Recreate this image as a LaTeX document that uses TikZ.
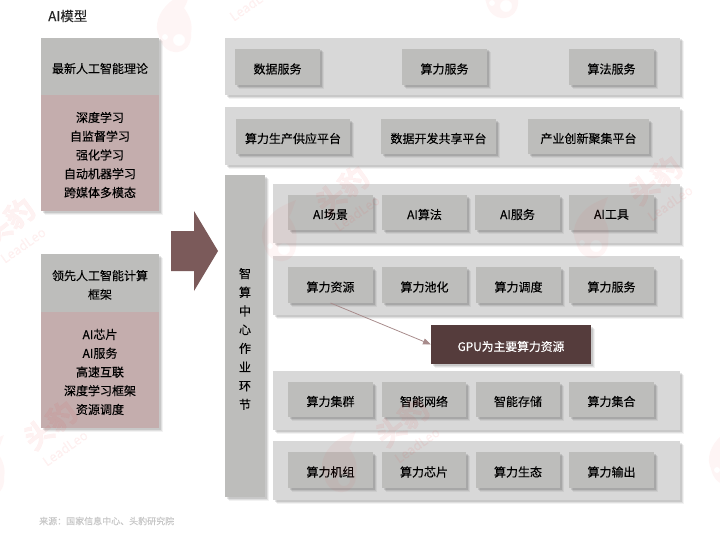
\documentclass[tikz,border=0pt]{standalone}
\usepackage{fontspec}
\setmainfont{Noto Sans CJK SC}[FakeBold=0.25]
\usetikzlibrary{arrows.meta}
\definecolor{hdr}{HTML}{BDBDBB}
\definecolor{rose}{HTML}{C4ADAD}
\definecolor{panel}{HTML}{D8D8D8}
\definecolor{dark}{HTML}{553C3C}
\definecolor{arrowc}{HTML}{7B5A5A}
\definecolor{linec}{HTML}{A88C8C}
\definecolor{wm}{HTML}{F04040}
\tikzset{
  shad/.style={preaction={fill=black,opacity=.10,transform canvas={shift={(1.5pt,-1.5pt)}}},
               preaction={fill=black,opacity=.08,transform canvas={shift={(2.5pt,-2.5pt)}}},
               preaction={fill=black,opacity=.05,transform canvas={shift={(3.5pt,-3.5pt)}}}},
  lbl/.style={inner sep=0pt,align=center,yshift=-2pt,text=black,font=\fontsize{12}{18.75}\selectfont},
  base/.style={rectangle,inner sep=0pt,outer sep=0pt},
  hbox/.style={base,fill=hdr,shad},
  rbox/.style={base,fill=rose,shad},
  pbox/.style={base,fill=panel,shad},
  ibox/.style={base,fill=hdr,shad},
  dbox/.style={base,fill=dark,shad},
  wmark/.style={text=wm,opacity=.065,rotate=38,inner sep=0pt,font=\bfseries\fontsize{29}{29}\selectfont},
  wsub/.style={text=wm,opacity=.065,rotate=35,inner sep=0pt,font=\fontsize{13}{13}\selectfont},
  wcat/.style={fill=wm,opacity=.05},
}
% #1 name, #2 style, #3 x1, #4 y1, #5 x2, #6 y2, #7 text
\newcommand{\bx}[7]{%
  \pgfmathsetmacro{\bw}{#5-#3}\pgfmathsetmacro{\bh}{#6-#4}%
  \pgfmathsetmacro{\bcx}{(#3+#5)/2}\pgfmathsetmacro{\bcy}{(#4+#6)/2}%
  \node[#2,minimum width=\bw pt,minimum height=\bh pt,label={[lbl]center:{#7}}] (#1) at (\bcx,\bcy) {};}
\newcommand{\catmark}[2]{%
  \begin{scope}[shift={(#1,#2)}]
    \fill[wcat,even odd rule] (13,-31) .. controls (10,-24) and (9,-18) .. (6,-14)
      .. controls (12,-6) and (15,2) .. (13,12) .. controls (14,22) and (8,29) .. (0,30)
      .. controls (-10,31) and (-17,24) .. (-19,14) .. controls (-24,4) and (-20,-10) .. (-8,-20)
      .. controls (-2,-25) and (6,-28) .. (13,-31) -- cycle
      (1,18) circle (6) (-13,15) circle (3);
  \end{scope}}
\begin{document}
\begin{tikzpicture}[x=1pt,y=-1pt]
\useasboundingbox (0,0) rectangle (720,535);
% left
\node[inner sep=0pt,anchor=west,text=black!85,font=\fontsize{13.5}{16}\selectfont] (title) at (48,16) {AI模型};
\bx{h1}{hbox}{41}{38}{159}{95}{最新人工智能理论}
\bx{b1}{rbox}{41}{95}{159}{211}{深度学习\\自监督学习\\强化学习\\自动机器学习\\跨媒体多模态}
\bx{h2}{hbox}{41}{254}{159}{312}{领先人工智能计算\\框架}
\bx{b2}{rbox}{41}{312}{159}{428}{AI芯片\\AI服务\\高速互联\\深度学习框架\\资源调度}
% big arrow
\fill[arrowc] (171,231) -- (194,231) -- (194,211) -- (218,251) -- (194,291) -- (194,271) -- (171,271) -- cycle;
% top panels
\bx{p1}{pbox}{225}{38}{680}{95}{}
\bx{p2}{pbox}{225}{107}{680}{165}{}
\bx{a1}{ibox}{235}{49}{320}{85}{数据服务}
\bx{a2}{ibox}{402}{49}{487}{85}{算力服务}
\bx{a3}{ibox}{569}{49}{654}{85}{算法服务}
\bx{c1}{ibox}{236}{119}{350}{154}{算力生产供应平台}
\bx{c2}{ibox}{381}{119}{496}{154}{数据开发共享平台}
\bx{c3}{ibox}{528}{119}{649}{154}{产业创新聚集平台}
% vertical
\bx{v}{ibox}{225}{175}{265}{497}{}
\node[inner sep=0pt,align=center,text=black,font=\fontsize{12}{18.7}\selectfont] (vt) at (245,339) {智\\算\\中\\心\\作\\业\\环\\节};
% panels
\bx{p3}{pbox}{273}{184}{680}{243}{}
\bx{p4}{pbox}{273}{256}{680}{315}{}
\bx{p5}{pbox}{273}{371}{680}{430}{}
\bx{p6}{pbox}{273}{441}{680}{500}{}
\bx{d1}{ibox}{288}{195}{373}{230}{AI场景}
\bx{d2}{ibox}{382}{195}{467}{230}{AI算法}
\bx{d3}{ibox}{475}{195}{560}{230}{AI服务}
\bx{d4}{ibox}{569}{195}{654}{230}{AI工具}
\bx{e1}{ibox}{288}{267}{373}{303}{算力资源}
\bx{e2}{ibox}{382}{267}{467}{303}{算力池化}
\bx{e3}{ibox}{476}{267}{561}{303}{算力调度}
\bx{e4}{ibox}{569}{267}{654}{303}{算力服务}
\bx{f1}{ibox}{288}{382}{373}{417}{算力集群}
\bx{f2}{ibox}{382}{382}{466}{417}{智能网络}
\bx{f3}{ibox}{476}{382}{560}{417}{智能存储}
\bx{f4}{ibox}{569}{382}{654}{417}{算力集合}
\bx{g1}{ibox}{288}{452}{373}{488}{算力机组}
\bx{g2}{ibox}{382}{452}{466}{488}{算力芯片}
\bx{g3}{ibox}{476}{452}{560}{488}{算力生态}
\bx{g4}{ibox}{569}{452}{654}{488}{算力输出}
\bx{gpu}{dbox}{431}{325}{591}{364}{\color{white}\fontsize{11.8}{14}\selectfont GPU为主要算力资源}
\draw[linec,line width=.8pt,-{Triangle[length=8pt,width=6pt]}] (e1.south) -- (gpu.west);
\node[inner sep=0pt,anchor=west,text=black!22,font=\fontsize{9}{11}\selectfont] (src) at (39,521) {来源：国家信息中心、头豹研究院};
% watermarks
\foreach \i/\px/\py in {a/50/425,b/342/190,c/402/422,d/655/180,f/8/222}{
  \node[wmark] (wm\i) at (\px,\py) {头豹};
  \node[wsub] (ws\i) at (\px+15,\py+23) {LeadLeo};
}
\node[wsub] (wse) at (252,3) {LeadLeo};
\catmark{-9}{466}
\catmark{283}{231}
\catmark{343}{462}
\catmark{595}{228}
\catmark{178}{22}
\catmark{730}{455}
\catmark{505}{-12}
\end{tikzpicture}
\end{document}
